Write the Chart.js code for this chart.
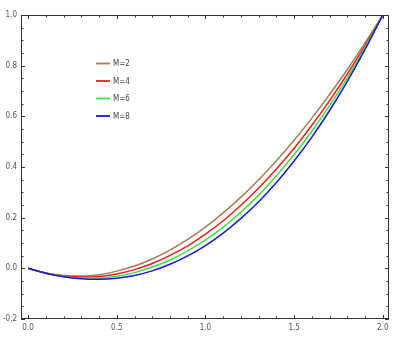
<!DOCTYPE html>
<html>
<head>
<meta charset="utf-8">
<script src="https://cdn.jsdelivr.net/npm/chart.js@4.4.0/dist/chart.umd.min.js"></script>
<style>
html, body { margin: 0; padding: 0; background: #fff; }
</style>
</head>
<body>
<canvas id="chart" width="395" height="340"></canvas>
<script>
// valores
const xValues = [0, 0.1, 0.2, 0.3, 0.4, 0.5, 0.6, 0.7, 0.8, 0.9, 1.0,
                 1.1, 1.2, 1.3, 1.4, 1.5, 1.6, 1.7, 1.8, 1.9, 2.0];

const m2 = [0, -0.018, -0.028, -0.030, -0.025, -0.011, 0.009, 0.037, 0.072, 0.114, 0.163,
            0.219, 0.281, 0.350, 0.425, 0.506, 0.593, 0.686, 0.785, 0.890, 1.0];
const m4 = [0, -0.019, -0.030, -0.034, -0.032, -0.022, -0.005, 0.019, 0.051, 0.089, 0.135,
            0.188, 0.249, 0.317, 0.392, 0.474, 0.565, 0.662, 0.767, 0.880, 1.0];
const m6 = [0, -0.019, -0.032, -0.038, -0.038, -0.031, -0.017, 0.005, 0.033, 0.069, 0.112,
            0.163, 0.222, 0.289, 0.365, 0.449, 0.541, 0.642, 0.752, 0.872, 1.0];
const m8 = [0, -0.019, -0.033, -0.041, -0.043, -0.039, -0.028, -0.010, 0.016, 0.049, 0.090,
            0.139, 0.197, 0.263, 0.339, 0.424, 0.518, 0.623, 0.738, 0.864, 1.0];

const seriesLabels = ['M=2', 'M=4', 'M=6', 'M=8'];

const xMajorTicks = [0, 0.5, 1.0, 1.5, 2.0];
const xMinorTicks = [0.1, 0.2, 0.3, 0.4, 0.6, 0.7, 0.8, 0.9, 1.1, 1.2, 1.3, 1.4, 1.6, 1.7, 1.8, 1.9];
const yMajorTicks = [-0.2, 0.0, 0.2, 0.4, 0.6, 0.8, 1.0];
const yMinorTicks = [-0.15, -0.1, -0.05, 0.05, 0.1, 0.15, 0.25, 0.3, 0.35, 0.45, 0.5, 0.55,
                     0.65, 0.7, 0.75, 0.85, 0.9, 0.95];

const colors = ['rgb(168, 124, 82)', 'rgb(228, 32, 32)', 'rgb(64, 224, 64)', 'rgb(24, 24, 210)'];
const labelFont = { family: "'Liberation Sans Narrow', 'DejaVu Sans Condensed', sans-serif", size: 8 };

function toPoints(ys) {
    return xValues.map((x, i) => ({ x: x, y: ys[i] }));
}

// a última série fica por cima, como na figura
const datasets = [m2, m4, m6, m8].map((ys, i) => ({
    label: seriesLabels[i],
    data: toPoints(ys),
    borderColor: colors[i],
    borderWidth: 1.5,
    pointRadius: 0,
    fill: false,
    order: 3 - i,
    cubicInterpolationMode: 'monotone'
}));

// moldura com marcas de escala para dentro (estilo Mathematica)
const frameTicks = {
    id: 'frameTicks',
    afterDatasetsDraw(chart) {
        const { ctx, chartArea: a, scales: { x, y } } = chart;
        ctx.save();
        ctx.strokeStyle = '#333';
        ctx.lineWidth = 1;
        ctx.strokeRect(a.left + 0.5, a.top + 0.5, a.right - a.left - 1, a.bottom - a.top - 1);
        ctx.beginPath();
        const drawX = (v, len) => {
            const px = Math.round(x.getPixelForValue(v)) + 0.5;
            ctx.moveTo(px, a.bottom); ctx.lineTo(px, a.bottom - len);
            ctx.moveTo(px, a.top); ctx.lineTo(px, a.top + len);
        };
        const drawY = (v, len) => {
            const py = Math.round(y.getPixelForValue(v)) + 0.5;
            ctx.moveTo(a.left, py); ctx.lineTo(a.left + len, py);
            ctx.moveTo(a.right, py); ctx.lineTo(a.right - len, py);
        };
        xMajorTicks.forEach(v => drawX(v, 4));
        xMinorTicks.forEach(v => drawX(v, 2.5));
        yMajorTicks.forEach(v => drawY(v, 4));
        yMinorTicks.forEach(v => drawY(v, 2.5));
        ctx.stroke();
        ctx.restore();
    }
};

// legenda dentro da área do gráfico
const innerLegend = {
    id: 'innerLegend',
    afterDraw(chart) {
        const { ctx, chartArea: a } = chart;
        const left = a.left + 75;
        const top = a.top + 48.5;
        ctx.save();
        ctx.font = "8px 'Liberation Sans Narrow', 'DejaVu Sans Condensed', sans-serif";
        ctx.textBaseline = 'middle';
        chart.data.datasets.forEach((ds, i) => {
            const yy = top + i * 17.5;
            ctx.strokeStyle = ds.borderColor;
            ctx.lineWidth = 1.8;
            ctx.beginPath();
            ctx.moveTo(left, yy);
            ctx.lineTo(left + 14, yy);
            ctx.stroke();
            ctx.fillStyle = '#444';
            ctx.fillText(ds.label, left + 17, yy + 0.5);
        });
        ctx.restore();
    }
};

const ctx = document.getElementById('chart').getContext('2d');
new Chart(ctx, {
    type: 'line',
    data: { datasets: datasets },
    plugins: [frameTicks, innerLegend],
    options: {
        responsive: false,
        animation: false,
        layout: { padding: { top: 15, right: 6, left: 0, bottom: 0 } },
        plugins: {
            legend: { display: false },
            tooltip: { enabled: false }
        },
        scales: {
            x: {
                type: 'linear',
                min: -0.04,
                max: 2.035,
                afterFit: s => { s.height = 21; },
                afterBuildTicks: s => { s.ticks = xMajorTicks.map(v => ({ value: v })); },
                grid: { display: false, drawTicks: false },
                border: { display: false },
                ticks: {
                    padding: 4,
                    color: '#555',
                    font: labelFont,
                    maxRotation: 0,
                    callback: v => v.toFixed(1)
                }
            },
            y: {
                min: -0.2,
                max: 1.0,
                afterFit: s => { s.width = 21; },
                afterBuildTicks: s => { s.ticks = yMajorTicks.map(v => ({ value: v })); },
                grid: { display: false, drawTicks: false },
                border: { display: false },
                ticks: {
                    padding: 4,
                    color: '#555',
                    font: labelFont,
                    callback: v => v.toFixed(1)
                }
            }
        }
    }
});
</script>
</body>
</html>
